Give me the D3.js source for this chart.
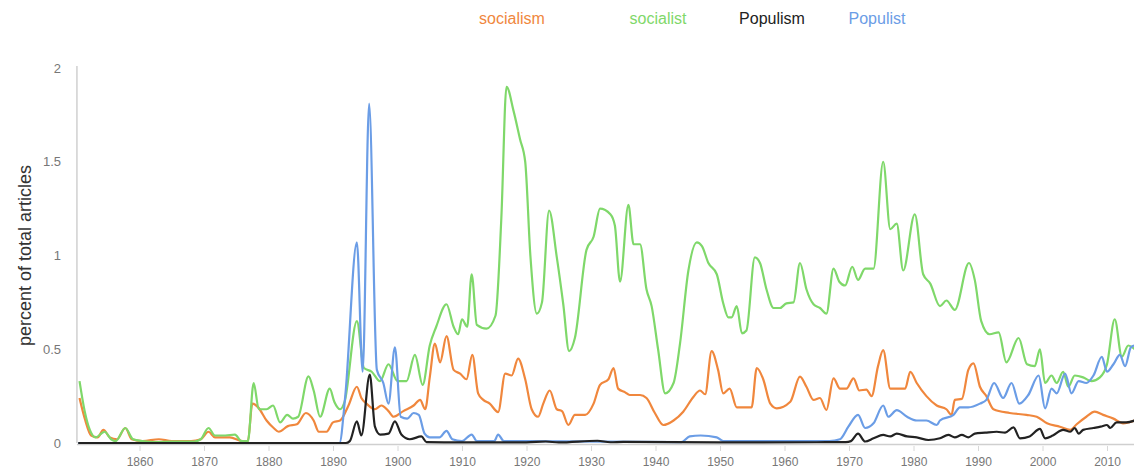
<!DOCTYPE html>
<html><head><meta charset="utf-8">
<script src="https://cdn.jsdelivr.net/npm/d3@7"></script>
<style>
body{margin:0;background:#fff;}
svg{display:block;font-family:"Liberation Sans",Arial,sans-serif;}
</style></head>
<body><svg id="chart" width="1134" height="474"></svg>
<script>
const seriesNames = ["socialism","socialist","Populism","Populist"];
const seriesColors = ["#f0873d","#7fd86a","#222222","#6b9de6"];
const yTicks = [0,0.5,1,1.5,2];
const xTicks = [1860,1870,1880,1890,1900,1910,1920,1930,1940,1950,1960,1970,1980,1990,2000,2010];
const yTickLabels = ["0","0.5","1","1.5","2"];

const socialismYears = [1850.7,1851.6,1852.5,1853.5,1854.4,1855.4,1856.5,1857.8,1858.8,1860.5,1863,1865,1868,1869.5,1870.7,1871.7,1874,1876,1876.8,1877.5,1878.4,1879.7,1880.8,1881.6,1883,1884.4,1885.8,1887,1887.8,1889,1890,1891.1,1892.4,1893.7,1894.4,1895.2,1896.5,1897.5,1898.6,1899.4,1900.9,1902.5,1903.5,1904.3,1905,1905.8,1906.6,1907.6,1908.7,1909.7,1910.7,1911.6,1912.5,1913.3,1914.3,1915.6,1916.7,1917.7,1918.7,1919.8,1920.8,1921.8,1922.6,1923.6,1924.7,1925.5,1926.5,1927.5,1929.1,1930.4,1931.4,1932.7,1933.5,1934.2,1935.3,1936,1937.6,1938.6,1939.9,1941.2,1942.8,1944.3,1945.9,1946.9,1947.7,1948.7,1949.7,1950.5,1951.5,1952.6,1954.9,1955.7,1956.7,1957.8,1958.8,1960.9,1962.4,1963.4,1964.5,1965.5,1966.5,1967.6,1968.6,1969.6,1970.7,1971.6,1972.7,1973.5,1974.5,1975.3,1976.4,1977.6,1978.7,1979.5,1980.5,1982,1983.6,1985.1,1985.9,1986.4,1987.5,1988.5,1989.3,1990.3,1991.3,1992.4,1994.9,1997.5,1999.1,2000.7,2002.7,2004.3,2005.3,2006.8,2008.1,2009.4,2011,2012.5,2014.3];
const socialismValues = [0.24,0.12,0.04,0.03,0.07,0.03,0.02,0.08,0.02,0.01,0.02,0.01,0.01,0.02,0.06,0.03,0.03,0.01,0.01,0.21,0.19,0.12,0.08,0.06,0.09,0.1,0.16,0.12,0.06,0.06,0.11,0.12,0.2,0.3,0.24,0.21,0.18,0.2,0.17,0.14,0.17,0.2,0.23,0.18,0.35,0.53,0.43,0.57,0.39,0.37,0.34,0.47,0.265,0.23,0.21,0.165,0.37,0.36,0.45,0.34,0.18,0.14,0.21,0.28,0.18,0.17,0.096,0.15,0.15,0.21,0.31,0.34,0.4,0.29,0.27,0.256,0.256,0.24,0.16,0.096,0.12,0.167,0.247,0.28,0.26,0.49,0.39,0.265,0.29,0.19,0.19,0.4,0.34,0.21,0.185,0.22,0.354,0.3,0.23,0.24,0.176,0.345,0.29,0.29,0.345,0.28,0.285,0.25,0.41,0.495,0.29,0.29,0.29,0.38,0.32,0.25,0.2,0.18,0.15,0.23,0.235,0.39,0.425,0.3,0.25,0.18,0.16,0.15,0.14,0.105,0.087,0.07,0.1,0.14,0.167,0.15,0.13,0.105,0.12];

const socialistYears = [1850.7,1851.5,1852.3,1853.2,1854.6,1855.6,1856.3,1857.8,1859,1860.5,1862.5,1865,1868.5,1869.5,1870.7,1871.7,1873.3,1874.8,1875.8,1876.8,1877.7,1878.5,1879.7,1880.7,1881.8,1882.9,1883.8,1884.6,1886.2,1887,1888,1889.5,1890.2,1891.1,1891.8,1893.7,1894.8,1896,1897.3,1898.6,1900,1901.4,1902.7,1903.9,1905,1906,1907.6,1908.7,1909.4,1910,1910.8,1911.5,1912.3,1913.8,1915.2,1916.1,1916.9,1918,1919,1919.8,1920.6,1921.6,1922.4,1923.5,1924.7,1925.7,1926.6,1927.5,1929.3,1930.4,1931.4,1933,1933.7,1934.5,1935.8,1936.6,1937.6,1938.6,1939.4,1940.4,1941.5,1942.8,1943.8,1945.1,1946.4,1947.2,1948.2,1949.5,1950.5,1951.3,1951.8,1952.6,1953.4,1954.1,1955.4,1956.2,1957.2,1958.3,1959.3,1960.3,1961.4,1962.4,1963.4,1964.5,1965.5,1966.5,1967.6,1968.5,1969.4,1970.5,1971.4,1972.5,1973.8,1975.3,1976.4,1977.4,1978.4,1980.2,1981.5,1982.6,1984.1,1985.1,1986.4,1988.6,1989.5,1990.5,1991.8,1993.2,1994.4,1996.3,1997.6,1998.8,1999.6,2000.4,2001.4,2002.2,2003.2,2004,2005,2006.3,2007.6,2008.9,2010,2011.2,2012.3,2013.3,2014.3];
const socialistValues = [0.33,0.17,0.07,0.03,0.06,0.02,0.01,0.08,0.02,0.01,0.005,0.008,0.008,0.02,0.08,0.04,0.04,0.045,0.01,0.01,0.32,0.18,0.18,0.2,0.11,0.15,0.13,0.14,0.355,0.28,0.14,0.29,0.22,0.18,0.22,0.65,0.4,0.38,0.33,0.42,0.33,0.33,0.47,0.31,0.52,0.62,0.74,0.62,0.58,0.66,0.62,0.9,0.63,0.61,0.68,1.2,1.9,1.77,1.62,1.5,1.0,0.69,0.75,1.24,0.99,0.74,0.49,0.56,1.03,1.1,1.25,1.22,1.16,0.86,1.27,1.06,1.06,0.82,0.73,0.5,0.265,0.32,0.53,0.92,1.07,1.05,0.96,0.9,0.745,0.67,0.67,0.73,0.585,0.6,0.99,0.96,0.82,0.72,0.72,0.745,0.75,0.96,0.82,0.74,0.72,0.69,0.93,0.86,0.84,0.94,0.87,0.93,0.93,1.5,1.14,1.17,0.92,1.22,0.9,0.85,0.73,0.76,0.71,0.96,0.87,0.65,0.58,0.59,0.43,0.56,0.42,0.41,0.5,0.32,0.36,0.32,0.38,0.3,0.36,0.35,0.33,0.35,0.42,0.66,0.46,0.52,0.5];

const populismYears = [1850.5,1892,1892.6,1893.7,1894.4,1895.7,1896.5,1897.3,1898.6,1899.6,1900.6,1901.9,1903.7,1904.5,1910,1920,1923,1925,1931,1933,1935,1950,1965,1968,1969.5,1970.3,1971.4,1972.5,1973.8,1975.3,1976.4,1977.4,1979,1980.5,1982.3,1984.1,1985.4,1986.4,1987.5,1988.5,1989.5,1991.1,1992.9,1994.2,1995.5,1996.5,1998,1999.6,2000.4,2001.6,2003.2,2004.3,2005,2005.6,2006.3,2007.9,2009,2010,2010.5,2011.5,2013,2014.3];
const populismValues = [0,0,0.01,0.115,0.04,0.365,0.087,0.045,0.05,0.115,0.045,0.02,0.035,0.005,0.003,0.003,0.008,0.003,0.012,0.004,0.006,0.003,0.004,0.005,0.005,0.01,0.05,0.008,0.025,0.043,0.035,0.05,0.035,0.03,0.016,0.025,0.043,0.03,0.043,0.03,0.05,0.055,0.06,0.055,0.083,0.025,0.035,0.075,0.025,0.04,0.07,0.06,0.08,0.05,0.07,0.08,0.087,0.096,0.08,0.11,0.11,0.12];

const populistYears = [1850.5,1891,1891.9,1893.7,1894.6,1895.6,1896.8,1897.8,1898.6,1899.6,1900.5,1901.5,1902.5,1903.3,1904.2,1905,1906.5,1907.6,1908.5,1910,1911.5,1912.3,1915,1915.6,1916.5,1920,1944,1945.3,1947,1949.5,1950.5,1967,1968.6,1969.9,1971.4,1972.5,1973.8,1975.3,1976.1,1977.4,1979,1980.5,1982,1983.6,1984.1,1986.2,1987.2,1988.5,1990.3,1991.3,1992.5,1993.9,1995.2,1996.4,1997.8,1999.4,2000.4,2001.4,2002.2,2003.5,2004.5,2005.6,2006.8,2007.9,2009.2,2010,2011,2012,2012.8,2013.7,2014.3];
const populistValues = [0,0,0.25,1.07,0.38,1.81,0.39,0.32,0.21,0.51,0.14,0.13,0.16,0.15,0.05,0.03,0.03,0.065,0.02,0.01,0.045,0.01,0.01,0.045,0.01,0.01,0.005,0.035,0.04,0.03,0.01,0.01,0.02,0.087,0.15,0.08,0.105,0.2,0.14,0.175,0.14,0.12,0.12,0.096,0.12,0.15,0.19,0.19,0.21,0.23,0.32,0.24,0.32,0.21,0.256,0.36,0.185,0.29,0.265,0.37,0.265,0.33,0.32,0.36,0.46,0.38,0.42,0.47,0.41,0.51,0.52];

const seriesData = [
  {name:seriesNames[0], color:seriesColors[0], years:socialismYears, values:socialismValues},
  {name:seriesNames[1], color:seriesColors[1], years:socialistYears, values:socialistValues},
  {name:seriesNames[3], color:seriesColors[3], years:populistYears, values:populistValues},
  {name:seriesNames[2], color:seriesColors[2], years:populismYears, values:populismValues}
];

const svg = d3.select("#chart");
const x = d3.scaleLinear().domain([1860,2010]).range([139.5,1107]);
const y = d3.scaleLinear().domain([0,2]).range([443,68]);
const xStart = 1850.3;

// y axis line
svg.append("line").attr("x1",x(xStart)).attr("x2",x(xStart)).attr("y1",y(2)-2).attr("y2",y(0))
  .attr("stroke","#d0d0d0").attr("stroke-width",1.5);
// x baseline
svg.append("line").attr("x1",x(xStart)).attr("x2",1134).attr("y1",y(0)+1.5).attr("y2",y(0)+1.5)
  .attr("stroke","#cfcfcf").attr("stroke-width",1.5);

// x ticks
const xAxis = d3.axisBottom(x).tickValues(xTicks).tickFormat(d3.format("d")).tickSize(5).tickPadding(6);
const gx = svg.append("g").attr("transform",`translate(0,${y(0)+3})`).call(xAxis);
gx.select(".domain").remove();
gx.selectAll(".tick line").attr("stroke","#d8d8d8");
gx.selectAll(".tick text").attr("fill","#777").style("font-size","12px").style("font-family","'Liberation Sans',Arial,sans-serif");

// y ticks
const yAxis = d3.axisLeft(y).tickValues(yTicks).tickFormat((d,i)=>yTickLabels[i]).tickSize(0).tickPadding(0);
const gy = svg.append("g").attr("transform",`translate(61,0)`).call(yAxis);
gy.select(".domain").remove();
gy.selectAll(".tick text").attr("fill","#777").style("font-size","13px").style("font-family","'Liberation Sans',Arial,sans-serif");

// y label
svg.append("text").attr("transform",`translate(25,${(y(0)+y(2))/2}) rotate(-90)`)
  .attr("text-anchor","middle").attr("dy","0.35em").attr("fill","#333").style("font-size","18px")
  .text("percent of total articles");

// lines
svg.append("clipPath").attr("id","clip").append("rect")
  .attr("x",x(xStart)).attr("y",0).attr("width",1134-x(xStart)).attr("height",474);
const line = d3.line().x(d=>x(d[0])).y(d=>y(d[1])).curve(d3.curveMonotoneX);
const gl = svg.append("g").attr("clip-path","url(#clip)");
seriesData.forEach(s=>{
  const pts = s.years.map((yr,i)=>[yr,s.values[i]]);
  gl.append("path").attr("d",line(pts)).attr("fill","none")
    .attr("stroke",s.color).attr("stroke-width",2.2).attr("stroke-linejoin","round");
});

// legend
const legendX = [512,658,772,877];
seriesNames.forEach((n,i)=>{
  svg.append("text").attr("x",legendX[i]).attr("y",24).attr("text-anchor","middle")
    .attr("fill",seriesColors[i]).style("font-size","16px").text(n);
});
</script></body></html>
